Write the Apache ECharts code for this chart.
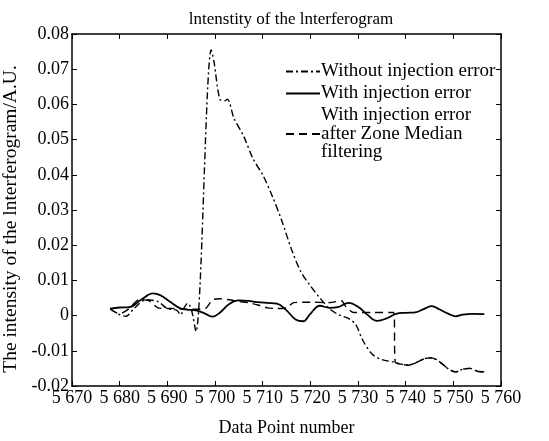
<!DOCTYPE html>
<html>
<head>
<meta charset="utf-8">
<script src="https://cdn.jsdelivr.net/npm/echarts@6/dist/echarts.min.js"></script>
<style>
html, body {
  margin: 0;
  padding: 0;
  background-color: #ffffff;
}
#lineCharts {
  width: 549px;
  height: 441px;
}
</style>
</head>
<body>
<div id="lineCharts"></div>
<script>
// without injection error (dash-dot)
let cleanX = [5678, 5679.5, 5681.3, 5683, 5685.5, 5688, 5690, 5692, 5692.8, 5693.5, 5694.3, 5695, 5696, 5699.2, 5699.8, 5701, 5702, 5702.6, 5704, 5706, 5708, 5710, 5712, 5714, 5716, 5718, 5720, 5722, 5724, 5726, 5728, 5729.5, 5731, 5733, 5735, 5737.5]
let cleanY = [0.002, 0.0006, -0.0002, 0.002, 0.0045, 0.004, 0.002, 0.0015, 0.0002, 0.0022, 0.0035, 0.002, -0.0045, 0.0755, 0.072, 0.0615, 0.061, 0.0615, 0.056, 0.051, 0.0445, 0.0400, 0.034, 0.027, 0.019, 0.0125, 0.0085, 0.005, 0.002, 0.0002, -0.0008, -0.0025, -0.007, -0.011, -0.0125, -0.0132]
// tail shared by the clean and the filtered curve
let tailX = [5739, 5740.5, 5742, 5744, 5745.5, 5747, 5749, 5750.5, 5752, 5753.5, 5755, 5756.5]
let tailY = [-0.0138, -0.0141, -0.0135, -0.0122, -0.012, -0.013, -0.0152, -0.016, -0.0152, -0.015, -0.0158, -0.016]
// with injection error (solid)
let errX = [5678, 5680, 5682, 5684.5, 5687, 5688.5, 5690.5, 5692.5, 5694, 5696, 5698, 5699.5, 5701, 5703, 5705, 5707, 5709, 5711, 5713, 5715, 5717, 5718.5, 5720, 5722, 5724, 5726, 5728, 5730, 5732, 5734, 5736, 5738, 5740, 5742, 5744, 5745.5, 5747, 5749, 5750.5, 5752, 5754, 5756.5]
let errY = [0.002, 0.0023, 0.0024, 0.0045, 0.0063, 0.0058, 0.004, 0.0022, 0.0017, 0.0015, 0.0005, -0.0003, 0.0008, 0.0033, 0.0043, 0.0042, 0.0038, 0.0036, 0.0034, 0.0015, -0.0012, -0.0016, 0.0005, 0.0028, 0.0022, 0.0025, 0.0036, 0.0025, 0.0002, -0.0015, -0.0008, 0.0005, 0.0008, 0.0009, 0.002, 0.0027, 0.0018, 0.0005, -0.0002, 0.0003, 0.0005, 0.0004]
// with injection error after zone median filtering (dashed)
let filtX = [5678, 5680, 5682, 5684, 5686, 5688, 5690, 5692, 5694, 5696, 5698, 5699.5, 5701, 5703, 5705, 5707, 5709, 5711, 5713, 5715, 5716.5, 5720, 5724, 5726.5, 5727.5, 5729, 5733, 5737.5, 5737.8]
let filtY = [0.0018, 0.0005, 0.002, 0.0045, 0.0043, 0.0022, 0.002, 0.002, 0.0018, 0.0018, 0.002, 0.0045, 0.0048, 0.0045, 0.004, 0.0037, 0.003, 0.0022, 0.002, 0.0022, 0.0037, 0.0038, 0.0037, 0.0042, 0.0025, 0.0009, 0.0009, 0.0009, -0.0132]

let names = ['Without injection error', 'With injection error', 'With injection error\nafter Zone Median\nfiltering']

function pairs (xs, ys) {
  return xs.map((x, i) => [x, ys[i]])
}

function fmtX (v) {
  return String(v).replace(/(\d)(\d{3})$/, '$1 $2')
}

let font = 'Liberation Serif'
let tick = { inside: true, length: 5, lineStyle: { color: '#000000' } }
let line = { onZero: false, lineStyle: { color: '#000000', width: 1.5 } }
let lineCharts = echarts.init(document.getElementById('lineCharts'))
let lineOptions = {
  animation: false,
  backgroundColor: '#ffffff',
  textStyle: {
    fontFamily: font,
    color: '#000000'
  },
  title: {
    text: 'lntenstity of the lnterferogram',
    left: 286,
    textAlign: 'center',
    top: 6,
    textStyle: {
      fontFamily: font,
      fontSize: 17,
      fontWeight: 'normal',
      color: '#000000'
    }
  },
  legend: {
    orient: 'vertical',
    left: 285,
    top: 62,
    padding: 0,
    itemWidth: 34,
    itemHeight: 18,
    itemGap: 3,
    itemStyle: { opacity: 0 },
    textStyle: {
      fontFamily: font,
      fontSize: 19,
      lineHeight: 18.5,
      color: '#000000',
      padding: [0, 0, 0, -4]
    },
    data: names
  },
  grid: {
    left: 72,
    right: 48,
    top: 34,
    bottom: 55,
    outerBoundsMode: 'none'
  },
  xAxis: [{
    type: 'value',
    min: 5670,
    max: 5760,
    interval: 10,
    name: 'Data Point number',
    nameLocation: 'middle',
    nameGap: 33,
    nameTextStyle: {
      fontFamily: font,
      fontSize: 18,
      color: '#000000'
    },
    axisLine: line,
    axisTick: tick,
    axisLabel: {
      fontFamily: font,
      fontSize: 18,
      color: '#000000',
      margin: 3,
      formatter: fmtX
    },
    splitLine: { show: false }
  }, {
    type: 'value',
    position: 'top',
    min: 5670,
    max: 5760,
    interval: 10,
    axisLine: line,
    axisTick: tick,
    axisLabel: { show: false },
    splitLine: { show: false }
  }],
  yAxis: [{
    type: 'value',
    min: -0.02,
    max: 0.08,
    interval: 0.01,
    name: 'The intensity of the lnterferogram/A.U.',
    nameLocation: 'middle',
    nameGap: 47,
    nameTextStyle: {
      fontFamily: font,
      fontSize: 19.5,
      color: '#000000',
      padding: [0, 18, 0, 0]
    },
    axisLine: Object.assign({ show: true }, line),
    axisTick: Object.assign({ show: true }, tick),
    axisLabel: {
      fontFamily: font,
      fontSize: 18,
      color: '#000000',
      margin: 3,
      formatter: v => String(Math.round(v * 100) / 100)
    },
    splitLine: { show: false }
  }, {
    type: 'value',
    position: 'right',
    min: -0.02,
    max: 0.08,
    interval: 0.01,
    axisLine: Object.assign({ show: true }, line),
    axisTick: Object.assign({ show: true }, tick),
    axisLabel: { show: false },
    splitLine: { show: false }
  }],
  series: [
    {
      name: names[0],
      type: 'line',
      symbol: 'none',
      smooth: 0.3,
      z: 3,
      itemStyle: { color: '#000000' },
      lineStyle: { color: '#000000', width: 1.4, type: [7, 3, 2, 3] },
      data: pairs(cleanX.concat(tailX), cleanY.concat(tailY))
    },
    {
      name: names[1],
      type: 'line',
      symbol: 'none',
      smooth: 0.4,
      z: 2,
      itemStyle: { color: '#000000' },
      lineStyle: { color: '#000000', width: 1.8, type: 'solid' },
      data: pairs(errX, errY)
    },
    {
      name: names[2],
      type: 'line',
      symbol: 'none',
      smooth: 0.2,
      z: 1,
      itemStyle: { color: '#000000' },
      lineStyle: { color: '#000000', width: 1.4, type: [8, 5] },
      data: pairs(filtX.concat(tailX), filtY.concat(tailY))
    }
  ]
}
lineCharts.setOption(lineOptions)
</script>
</body>
</html>
